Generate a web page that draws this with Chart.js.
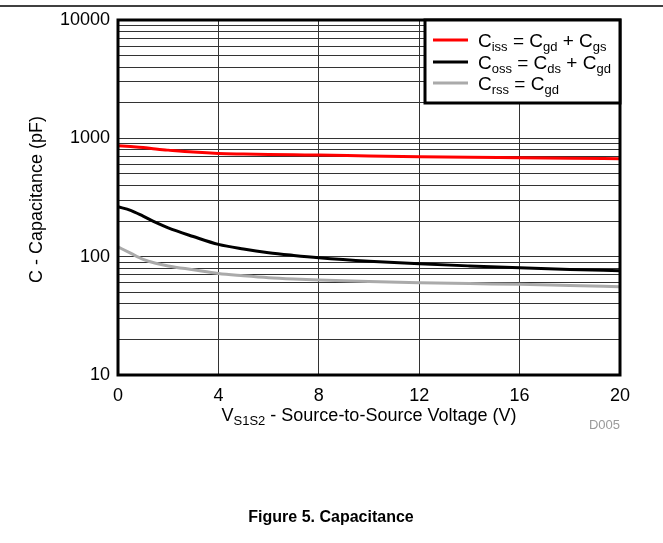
<!DOCTYPE html>
<html>
<head>
<meta charset="utf-8">
<script src="https://cdn.jsdelivr.net/npm/chart.js@4/dist/chart.umd.min.js"></script>
<style>
  html, body { margin: 0; padding: 0; background: #fff; }
  canvas { display: block; }
</style>
</head>
<body>
<canvas id="cap" width="663" height="543"></canvas>
<script>
// Drain-to-source voltage sweep (V) and measured capacitances (pF)
const voltage = [0, 0.5, 1, 1.5, 2, 3, 4, 5, 6, 7, 8, 10, 12, 14, 16, 18, 20];
const ciss = [866, 852, 836, 812, 795, 765, 745, 737, 731, 726, 722, 710, 700, 692, 686, 679, 673];
const coss = [264, 246, 220, 195, 175, 148, 127, 116, 108, 102.5, 98, 91.5, 87, 83.5, 80.5, 78, 76];
const crss = [121, 107, 95, 88, 83.5, 77.5, 72, 69, 66.5, 64.8, 63.5, 61.7, 60.3, 59.2, 58.4, 57, 55.7];

// Axis ticks
const xTicks = [0, 4, 8, 12, 16, 20];
const yDecades = [10, 100, 1000, 10000];
const yMinorSteps = [1, 2, 3, 4, 5, 6, 7, 8, 9];

// Legend labels as [text, isSubscript] runs
const legendCiss = [['C', 0], ['iss', 1], [' = C', 0], ['gd', 1], [' + C', 0], ['gs', 1]];
const legendCoss = [['C', 0], ['oss', 1], [' = C', 0], ['ds', 1], [' + C', 0], ['gd', 1]];
const legendCrss = [['C', 0], ['rss', 1], [' = C', 0], ['gd', 1]];
const xTitleRuns = [['V', 0], ['S1S2', 1], [' - Source-to-Source Voltage (V)', 0]];

const FONT = '"Liberation Sans", Arial, sans-serif';

// every grid position on the log axis: 1..9 x each decade, plus the top decade
const yGrid = [];
yDecades.slice(0, -1).forEach(d => yMinorSteps.forEach(m => yGrid.push(d * m)));
yGrid.push(yDecades[yDecades.length - 1]);

function toPoints(ys) {
  return voltage.map((v, i) => ({ x: v, y: ys[i] }));
}

function runsWidth(ctx, runs, size, subSize) {
  let w = 0;
  runs.forEach(([t, sub]) => {
    ctx.font = (sub ? subSize : size) + 'px ' + FONT;
    w += ctx.measureText(t).width;
  });
  return w;
}

function drawRuns(ctx, runs, x, y, size, subSize, drop) {
  ctx.textAlign = 'left';
  ctx.textBaseline = 'alphabetic';
  runs.forEach(([t, sub]) => {
    ctx.font = (sub ? subSize : size) + 'px ' + FONT;
    ctx.fillText(t, x, sub ? y + drop : y);
    x += ctx.measureText(t).width;
  });
}

const decorations = {
  id: 'decorations',
  afterDraw(chart) {
    const ctx = chart.ctx;
    const a = chart.chartArea;
    ctx.save();

    // rule across the top of the page
    ctx.strokeStyle = '#000';
    ctx.lineWidth = 1.5;
    ctx.beginPath();
    ctx.moveTo(0, 6);
    ctx.lineTo(663, 6);
    ctx.stroke();

    // plot frame
    ctx.lineWidth = 3;
    ctx.strokeRect(a.left, a.top, a.right - a.left, a.bottom - a.top);

    // legend box
    const lx = 425, ly = a.top, lw = a.right - lx, lh = 83;
    ctx.fillStyle = '#fff';
    ctx.fillRect(lx, ly, lw, lh);
    ctx.lineWidth = 3;
    ctx.strokeRect(lx, ly, lw, lh);
    const rows = [
      { runs: legendCiss, color: chart.data.datasets[0].borderColor, y: 40 },
      { runs: legendCoss, color: chart.data.datasets[1].borderColor, y: 62 },
      { runs: legendCrss, color: chart.data.datasets[2].borderColor, y: 83 }
    ];
    rows.forEach(r => {
      ctx.strokeStyle = r.color;
      ctx.lineWidth = 3;
      ctx.beginPath();
      ctx.moveTo(433, r.y);
      ctx.lineTo(468, r.y);
      ctx.stroke();
      ctx.fillStyle = '#000';
      drawRuns(ctx, r.runs, 478, r.y + 7, 19, 13, 4);
    });

    // x axis title
    ctx.fillStyle = '#000';
    const tw = runsWidth(ctx, xTitleRuns, 18, 13);
    drawRuns(ctx, xTitleRuns, (a.left + a.right) / 2 - tw / 2, 421, 18, 13, 4);

    // y axis title
    ctx.save();
    ctx.translate(37, (a.top + a.bottom) / 2 + 2);
    ctx.rotate(-Math.PI / 2);
    ctx.font = '18px ' + FONT;
    ctx.textAlign = 'center';
    ctx.textBaseline = 'middle';
    ctx.fillText('C - Capacitance (pF)', 0, 0);
    ctx.restore();

    // figure id
    ctx.fillStyle = '#9a9a9a';
    ctx.font = '13px ' + FONT;
    ctx.textAlign = 'right';
    ctx.textBaseline = 'middle';
    ctx.fillText('D005', 620, 425);

    // caption
    ctx.fillStyle = '#000';
    ctx.font = 'bold 16px ' + FONT;
    ctx.textAlign = 'center';
    ctx.fillText('Figure 5. Capacitance', 331, 518);

    ctx.restore();
  }
};

const lineStyle = { pointRadius: 0, borderWidth: 3, fill: false, cubicInterpolationMode: 'monotone' };

new Chart(document.getElementById('cap'), {
  type: 'line',
  data: {
    datasets: [
      Object.assign({ label: 'Ciss', data: toPoints(ciss), borderColor: '#ff0000' }, lineStyle),
      Object.assign({ label: 'Coss', data: toPoints(coss), borderColor: '#000000' }, lineStyle),
      Object.assign({ label: 'Crss', data: toPoints(crss), borderColor: '#aaaaaa' }, lineStyle)
    ]
  },
  options: {
    responsive: false,
    animation: false,
    devicePixelRatio: 1,
    layout: { padding: { top: 20, right: 43, left: 0, bottom: 0 } },
    plugins: { legend: { display: false }, tooltip: { enabled: false } },
    scales: {
      x: {
        type: 'linear',
        min: xTicks[0],
        max: xTicks[xTicks.length - 1],
        afterBuildTicks: s => { s.ticks = xTicks.map(v => ({ value: v })); },
        afterFit: s => { s.height = 168; },
        border: { display: false },
        grid: { color: '#333333', lineWidth: 1, drawTicks: false },
        ticks: { padding: 10, color: '#000', maxRotation: 0, font: { family: FONT, size: 18 } }
      },
      y: {
        type: 'logarithmic',
        min: yDecades[0],
        max: yDecades[yDecades.length - 1],
        afterBuildTicks: s => { s.ticks = yGrid.map(v => ({ value: v })); },
        afterFit: s => { s.width = 118; },
        border: { display: false },
        grid: { color: '#333333', lineWidth: 1, drawTicks: false },
        ticks: {
          autoSkip: false,
          padding: 8,
          color: '#000',
          font: { family: FONT, size: 18 },
          callback: v => (yDecades.includes(v) ? String(v) : '')
        }
      }
    }
  },
  plugins: [decorations]
});
</script>
</body>
</html>
